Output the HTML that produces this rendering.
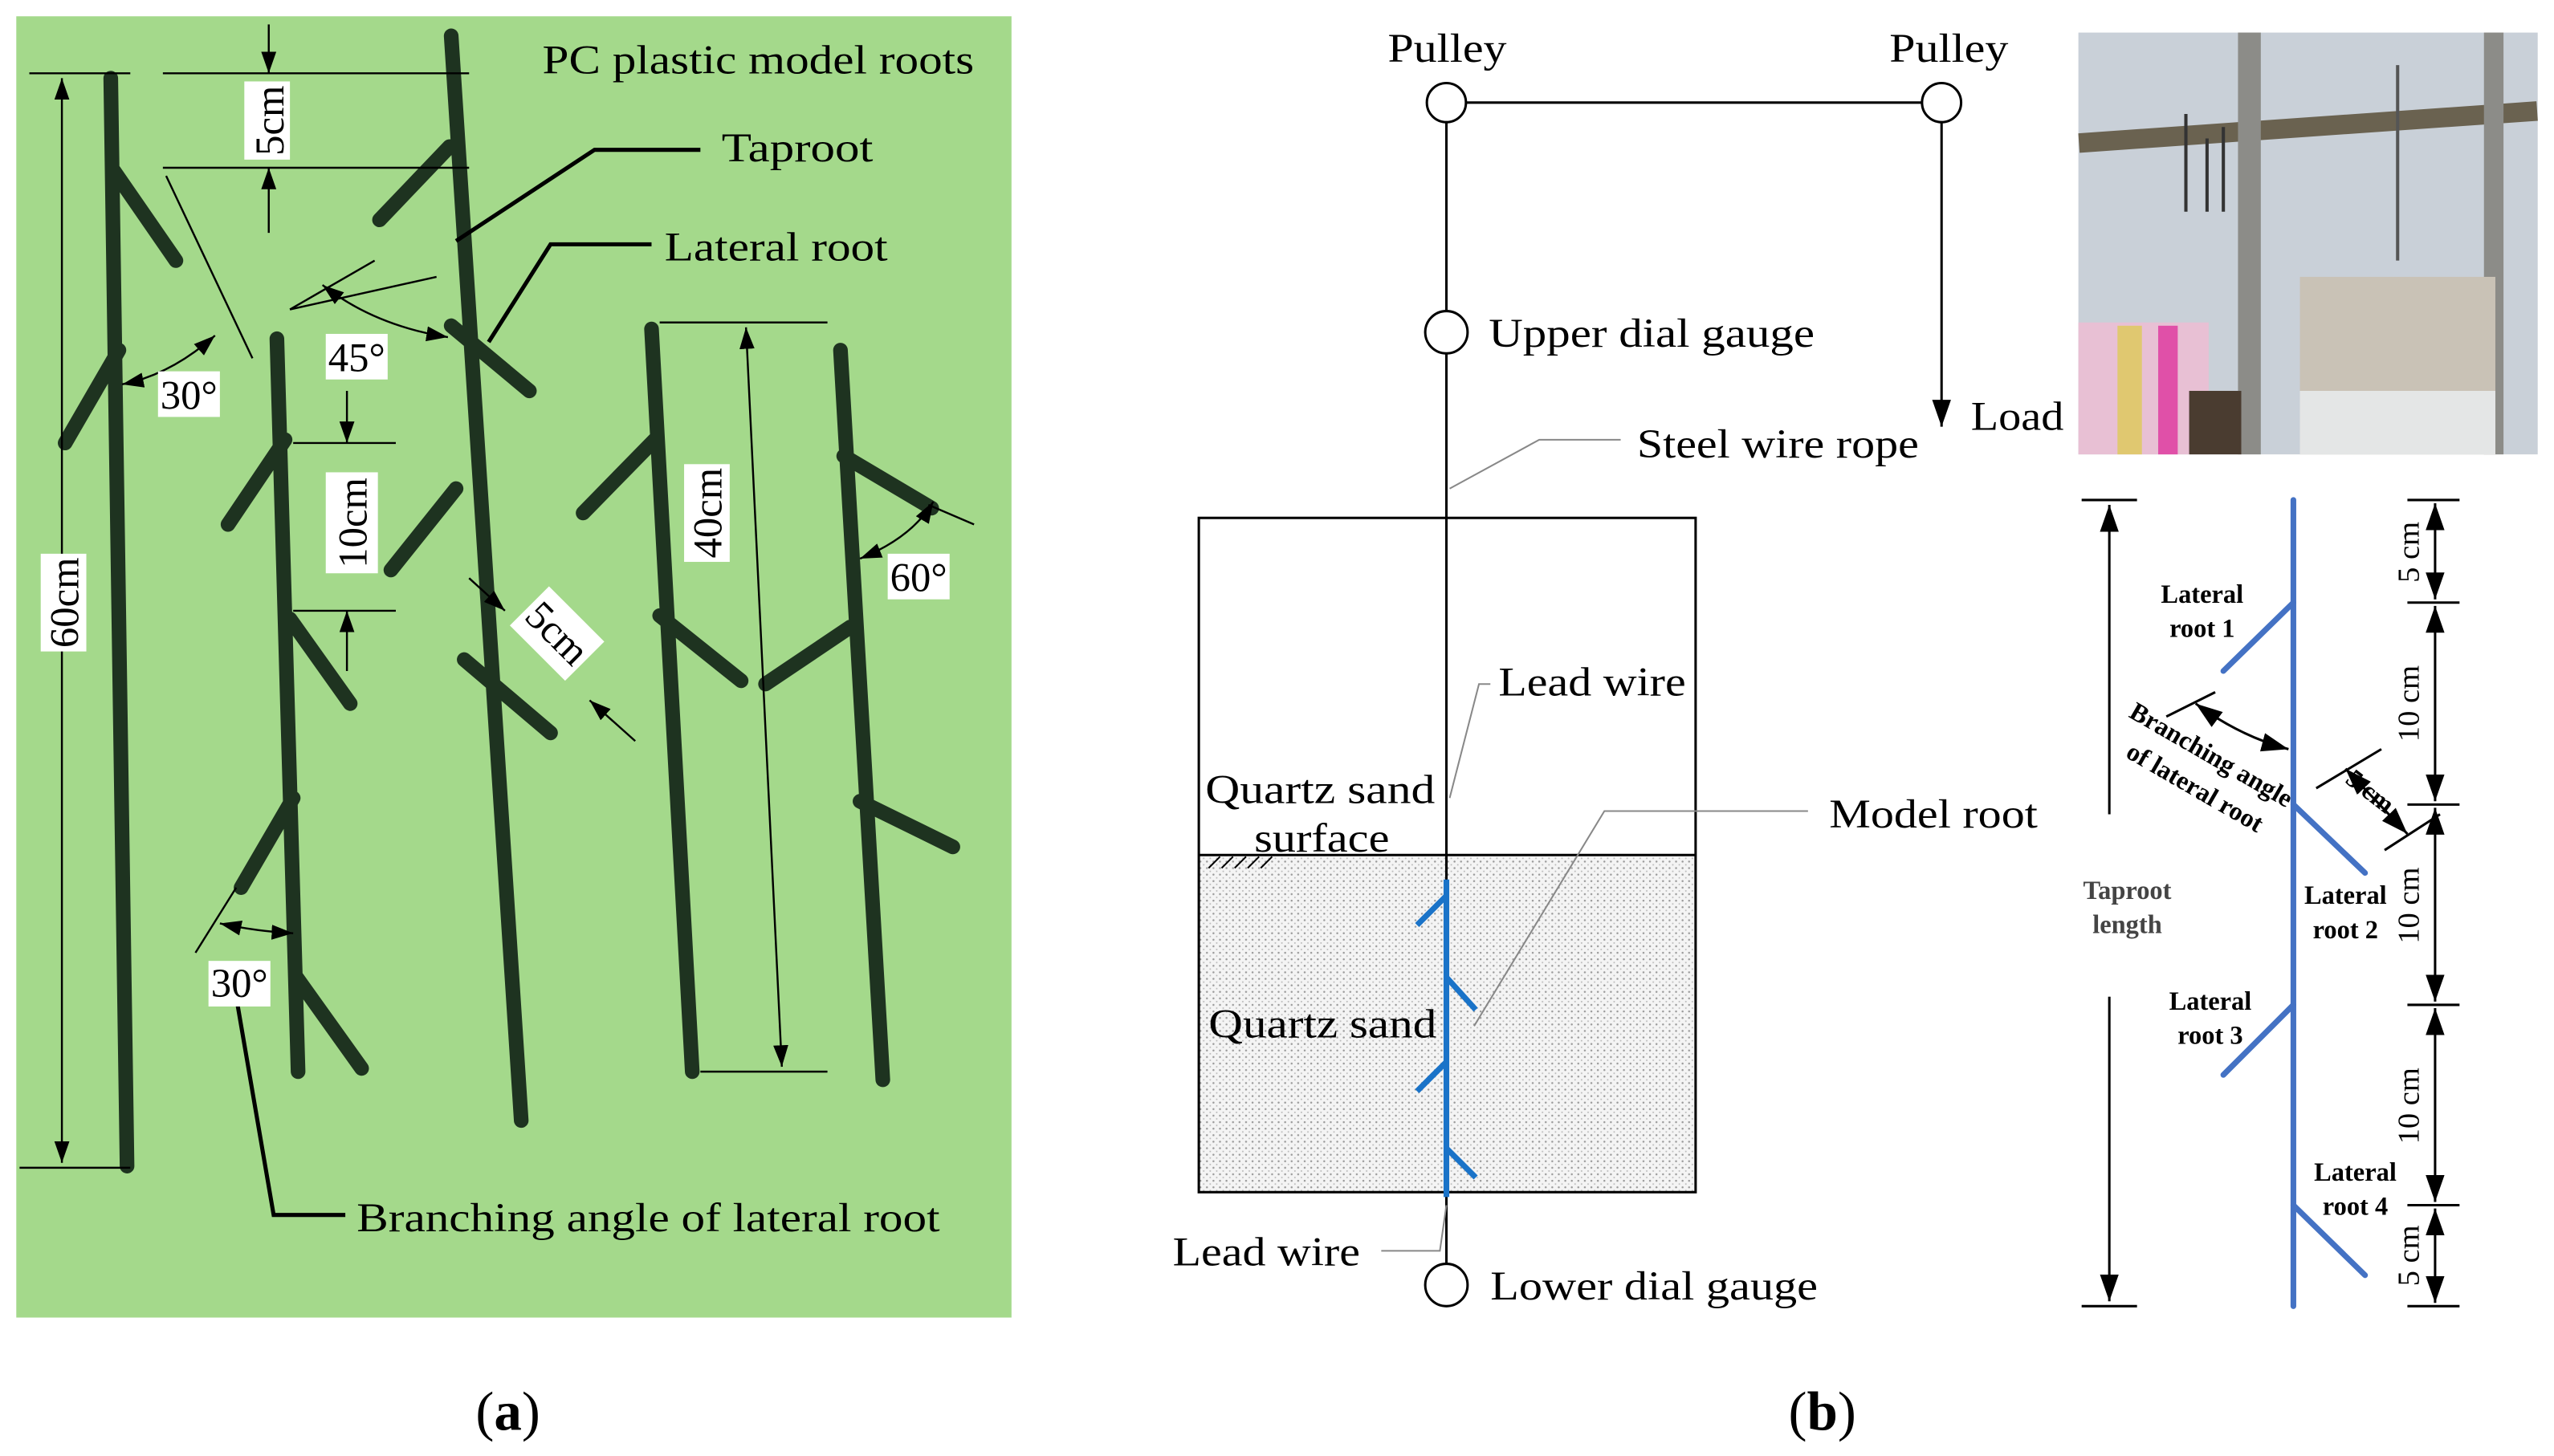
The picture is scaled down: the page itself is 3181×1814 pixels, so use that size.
<!DOCTYPE html>
<html><head><meta charset="utf-8"><style>
html,body{margin:0;padding:0;background:#fff}
svg{display:block}
text{font-family:"Liberation Serif",serif;fill:#000}
</style></head><body>
<svg width="3181" height="1814" viewBox="0 0 1568 894" preserveAspectRatio="none" xmlns="http://www.w3.org/2000/svg">
<defs>
<marker id="ar" viewBox="0 0 10 10" refX="10" refY="5" markerWidth="11" markerHeight="11" orient="auto-start-reverse"><path d="M0,1.5 L10,5 L0,8.5z" fill="#000"/></marker>
<pattern id="dots" width="4" height="4" patternUnits="userSpaceOnUse"><rect width="4" height="4" fill="#f4f4f4"/><circle cx="1" cy="1" r="0.6" fill="#999"/><circle cx="3" cy="3" r="0.5" fill="#bbb"/></pattern>
</defs>
<!-- Panel a -->
<rect x="10" y="10" width="611" height="799" fill="#a4d98b"/>
<g stroke="#1e3320" stroke-width="9" stroke-linecap="round" fill="none">
<path d="M68 48 L78 716 M70 105 L108 160 M73 215 L40 272"/>
<path d="M170 208 L183 658 M175 270 L140 322 M178 380 L215 432 M180 490 L148 545 M182 600 L222 656"/>
<path d="M277 22 L320 688 M276 90 L233 135 M277 200 L325 240 M280 300 L240 350 M285 405 L338 450"/>
<path d="M400 202 L425 658 M402 270 L358 315 M405 378 L455 418"/>
<path d="M516 215 L542 663 M518 280 L572 312 M522 385 L470 420 M528 492 L585 520"/>
</g>
<g stroke="#000" stroke-width="1.2" fill="none">
<line x1="18" y1="45" x2="80" y2="45"/><line x1="12" y1="717" x2="80" y2="717"/>
<line x1="38" y1="48" x2="38" y2="714" marker-start="url(#ar)" marker-end="url(#ar)"/>
<line x1="100" y1="45" x2="288" y2="45"/><line x1="100" y1="103" x2="288" y2="103"/>
<line x1="165" y1="15" x2="165" y2="45" marker-end="url(#ar)"/><line x1="165" y1="143" x2="165" y2="103" marker-end="url(#ar)"/>
<line x1="102" y1="108" x2="155" y2="220"/>
<path d="M75 236 Q105 230 132 206" marker-start="url(#ar)" marker-end="url(#ar)"/>
<line x1="268" y1="170" x2="178" y2="190"/>
<line x1="230" y1="160" x2="178" y2="190"/>
<path d="M198 175 Q230 200 275 207" marker-start="url(#ar)" marker-end="url(#ar)"/>
<line x1="180" y1="272" x2="243" y2="272"/><line x1="180" y1="375" x2="243" y2="375"/>
<line x1="213" y1="240" x2="213" y2="272" marker-end="url(#ar)"/><line x1="213" y1="412" x2="213" y2="375" marker-end="url(#ar)"/>
<line x1="288" y1="355" x2="310" y2="375" marker-end="url(#ar)"/><line x1="390" y1="455" x2="362" y2="430" marker-end="url(#ar)"/>
<line x1="405" y1="198" x2="508" y2="198"/><line x1="430" y1="658" x2="508" y2="658"/>
<line x1="458" y1="201" x2="480" y2="655" marker-start="url(#ar)" marker-end="url(#ar)"/>
<line x1="570" y1="310" x2="598" y2="322"/>
<path d="M528 343 Q560 330 573 308" marker-start="url(#ar)" marker-end="url(#ar)"/>
<line x1="145" y1="545" x2="120" y2="585"/>
<path d="M135 567 Q158 572 180 573" marker-start="url(#ar)" marker-end="url(#ar)"/>
</g>
<g stroke="#000" stroke-width="2.5" fill="none">
<path d="M280 148 L365 92 L430 92"/><path d="M300 210 L338 150 L400 150"/>
<path d="M145 612 L168 746 L212 746"/>
</g>
<g fill="#fff">
<rect x="150" y="50" width="28" height="48"/><rect x="97" y="228" width="38" height="28"/>
<rect x="200" y="205" width="38" height="28"/><rect x="200" y="290" width="32" height="62"/>
<rect x="318" y="372" width="48" height="34" transform="rotate(45 342 389)"/>
<rect x="420" y="285" width="28" height="60"/><rect x="25" y="340" width="28" height="60"/>
<rect x="545" y="340" width="38" height="28"/><rect x="128" y="590" width="38" height="28"/>
</g>
<g font-size="25">
<text x="165" y="74" transform="rotate(-90 165 74)" text-anchor="middle" dy="9">5cm</text>
<text x="116" y="251" text-anchor="middle">30°</text>
<text x="219" y="228" text-anchor="middle">45°</text>
<text x="216" y="321" transform="rotate(-90 216 321)" text-anchor="middle" dy="9">10cm</text>
<text x="342" y="397" transform="rotate(45 342 389)" text-anchor="middle">5cm</text>
<text x="434" y="315" transform="rotate(-90 434 315)" text-anchor="middle" dy="9">40cm</text>
<text x="39" y="370" transform="rotate(-90 39 370)" text-anchor="middle" dy="9">60cm</text>
<text x="564" y="363" text-anchor="middle">60°</text>
<text x="147" y="612" text-anchor="middle">30°</text>
<text x="333" y="45" textLength="265" lengthAdjust="spacingAndGlyphs">PC plastic model roots</text>
<text x="443" y="99" textLength="93" lengthAdjust="spacingAndGlyphs">Taproot</text>
<text x="408" y="160" textLength="137" lengthAdjust="spacingAndGlyphs">Lateral root</text>
<text x="219" y="756" textLength="358" lengthAdjust="spacingAndGlyphs">Branching angle of lateral root</text>
</g>
<!-- Panel b -->
<rect x="736" y="525" width="305" height="207" fill="url(#dots)"/>
<rect x="736" y="318" width="305" height="414" fill="none" stroke="#000" stroke-width="1.5"/>
<line x1="736" y1="525" x2="1041" y2="525" stroke="#000" stroke-width="1.5"/>
<path d="M742 533 L749 526 M750 533 L757 526 M758 533 L765 526 M766 533 L773 526 M774 533 L781 526" stroke="#000"/>
<g stroke="#000" stroke-width="1.5" fill="none">
<line x1="888" y1="63" x2="1192" y2="63"/>
<line x1="888" y1="63" x2="888" y2="777"/>
<line x1="1192" y1="75" x2="1192" y2="262" marker-end="url(#ar)"/>
<circle cx="888" cy="63" r="12" fill="#fff"/><circle cx="1192" cy="63" r="12" fill="#fff"/>
<circle cx="888" cy="204" r="13" fill="#fff"/><circle cx="888" cy="789" r="13" fill="#fff"/>
</g>
<g stroke="#1a73c8" stroke-width="3.5" fill="none">
<line x1="888" y1="540" x2="888" y2="735"/>
<path d="M888 550 L870 568 M888 600 L906 620 M888 652 L870 670 M888 705 L906 723"/>
</g>
<g stroke="#888" stroke-width="1" fill="none">
<path d="M890 300 L945 270 L995 270"/><path d="M890 490 L908 420 L915 420"/>
<path d="M905 630 L985 498 L1110 498"/><path d="M848 768 L884 768 L888 740"/>
</g>
<g font-size="25" lengthAdjust="spacingAndGlyphs">
<text x="852" y="38" textLength="73" lengthAdjust="spacingAndGlyphs">Pulley</text><text x="1160" y="38" textLength="73" lengthAdjust="spacingAndGlyphs">Pulley</text>
<text x="914" y="213" textLength="200" lengthAdjust="spacingAndGlyphs">Upper dial gauge</text><text x="1210" y="264" textLength="57" lengthAdjust="spacingAndGlyphs">Load</text>
<text x="1005" y="281" textLength="173" lengthAdjust="spacingAndGlyphs">Steel wire rope</text><text x="920" y="427" textLength="115" lengthAdjust="spacingAndGlyphs">Lead wire</text>
<text x="740" y="493" textLength="141" lengthAdjust="spacingAndGlyphs">Quartz sand</text><text x="770" y="523" textLength="83" lengthAdjust="spacingAndGlyphs">surface</text>
<text x="1123" y="508" textLength="128" lengthAdjust="spacingAndGlyphs">Model root</text><text x="742" y="637" textLength="140" lengthAdjust="spacingAndGlyphs">Quartz sand</text>
<text x="720" y="777" textLength="115" lengthAdjust="spacingAndGlyphs">Lead wire</text><text x="915" y="798" textLength="201" lengthAdjust="spacingAndGlyphs">Lower dial gauge</text>
<text x="292" y="878" font-size="34">(<tspan font-weight="bold">a</tspan>)</text>
<text x="1098" y="878" font-size="34">(<tspan font-weight="bold">b</tspan>)</text>
</g>
<!-- photo -->
<rect x="1276" y="20" width="282" height="259" fill="#c9d0d8"/>
<rect x="1276" y="72" width="282" height="12" fill="#6a6250" transform="rotate(-4 1417 78)"/>
<rect x="1374" y="20" width="14" height="259" fill="#8c8c88"/>
<rect x="1525" y="20" width="12" height="259" fill="#8c8c88"/>
<rect x="1412" y="170" width="120" height="109" fill="#c9c2b6"/>
<rect x="1412" y="240" width="120" height="39" fill="#e4e6e6"/>
<rect x="1276" y="198" width="80" height="81" fill="#e8c0d4"/>
<rect x="1300" y="200" width="15" height="79" fill="#e0c870"/><rect x="1325" y="200" width="12" height="79" fill="#e050a8"/>
<rect x="1344" y="240" width="32" height="39" fill="#4a3c30"/>
<line x1="1472" y1="40" x2="1472" y2="160" stroke="#555" stroke-width="2"/>
<g stroke="#333" stroke-width="2"><line x1="1342" y1="70" x2="1342" y2="130"/><line x1="1355" y1="85" x2="1355" y2="130"/><line x1="1365" y1="78" x2="1365" y2="130"/></g>
<!-- right schematic -->
<g stroke="#4472c4" stroke-width="3.5" stroke-linecap="round" fill="none">
<line x1="1408" y1="307" x2="1408" y2="802"/>
<path d="M1408 370 L1365 412 M1408 494 L1452 536 M1408 617 L1365 660 M1408 740 L1452 783"/>
</g>
<g stroke="#000" stroke-width="1.5" fill="none">
<line x1="1278" y1="307" x2="1312" y2="307"/><line x1="1278" y1="802" x2="1312" y2="802"/>
<line x1="1295" y1="310" x2="1295" y2="500" marker-start="url(#ar)"/>
<line x1="1295" y1="612" x2="1295" y2="799" marker-end="url(#ar)"/>
<path d="M1478 307 H1510 M1478 370 H1510 M1478 494 H1510 M1478 617 H1510 M1478 740 H1510 M1478 802 H1510"/>
<line x1="1495" y1="309" x2="1495" y2="368" marker-start="url(#ar)" marker-end="url(#ar)"/>
<line x1="1495" y1="372" x2="1495" y2="492" marker-start="url(#ar)" marker-end="url(#ar)"/>
<line x1="1495" y1="496" x2="1495" y2="615" marker-start="url(#ar)" marker-end="url(#ar)"/>
<line x1="1495" y1="619" x2="1495" y2="738" marker-start="url(#ar)" marker-end="url(#ar)"/>
<line x1="1495" y1="742" x2="1495" y2="800" marker-start="url(#ar)" marker-end="url(#ar)"/>
<line x1="1330" y1="440" x2="1360" y2="425"/>
<path d="M1348 432 Q1375 452 1405 460" marker-start="url(#ar)" marker-end="url(#ar)"/>
<line x1="1422" y1="484" x2="1462" y2="460"/><line x1="1464" y1="522" x2="1498" y2="500"/>
<line x1="1440" y1="472" x2="1478" y2="512" marker-start="url(#ar)" marker-end="url(#ar)"/>
</g>
<g font-size="16" font-weight="bold" text-anchor="middle">
<text x="1352" y="370">Lateral</text><text x="1352" y="391">root 1</text>
<text x="1440" y="555">Lateral</text><text x="1440" y="576">root 2</text>
<text x="1357" y="620">Lateral</text><text x="1357" y="641">root 3</text>
<text x="1446" y="725">Lateral</text><text x="1446" y="746">root 4</text>
<text x="1306" y="552" style="fill:#444">Taproot</text><text x="1306" y="573" style="fill:#444">length</text>
<text x="1355" y="468" transform="rotate(30 1355 468)">Branching angle</text>
<text x="1345" y="488" transform="rotate(30 1345 488)">of lateral root</text>
<text x="1452" y="490" transform="rotate(38 1452 490)">5 cm</text>
</g>
<g font-size="19" text-anchor="middle">
<text transform="translate(1485 339) rotate(-90)">5 cm</text>
<text transform="translate(1485 432) rotate(-90)">10 cm</text>
<text transform="translate(1485 556) rotate(-90)">10 cm</text>
<text transform="translate(1485 679) rotate(-90)">10 cm</text>
<text transform="translate(1485 771) rotate(-90)">5 cm</text>
</g>
</svg>
</body></html>
